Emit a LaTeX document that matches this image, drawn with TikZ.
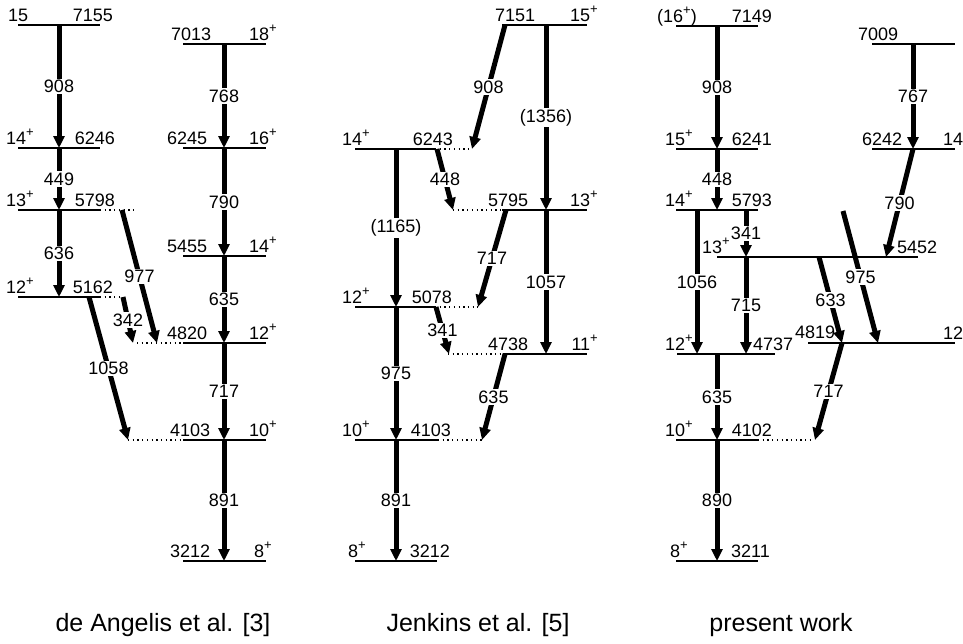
\documentclass[tikz,border=0pt]{standalone}
\usepackage{fontspec}
\setmainfont{Liberation Sans}
\usetikzlibrary{arrows.meta}
\newcommand\lf{\fontsize{18}{21}\selectfont}
\newcommand\pl{\raisebox{0.42em}{\fontsize{13}{13}\selectfont+}}
\begin{document}
\begin{tikzpicture}[x=1pt,y=-1pt,
 lev/.style={line width=1.3pt},
 dots/.style={line width=1.3pt, dash pattern=on 1.3pt off 3.4pt},
 gam/.style={line width=5pt, -{Triangle[width=11pt,length=12pt]}},
 en/.style={font=\lf, fill=white, inner sep=1.5pt},
 ll/.style={font=\lf, inner sep=0pt, anchor=base west},
 lr/.style={font=\lf, inner sep=0pt, anchor=base east},
 captxt/.style={font=\fontsize{25}{29}\selectfont, inner sep=0pt}]
\useasboundingbox (0,0) rectangle (963,643);

% ================= Panel 1: de Angelis =================
\draw[lev] (18,25) -- (100,25);
\node[ll] (a15) at (8,21) {15};
\node[lr] (a7155) at (113,21) {7155};
\draw[lev] (18,148) -- (100,148);
\node[ll] (a14) at (6,144) {14\pl};
\node[lr] (a6246) at (115,144) {6246};
\draw[lev] (18,210) -- (100,210);
\draw[dots] (100,210) -- (137,210);
\node[ll] (a13) at (6,206) {13\pl};
\node[lr] (a5798) at (115,206) {5798};
\draw[lev] (18,297) -- (100,297);
\draw[dots] (100,297) -- (123,297);
\node[ll] (a12) at (6,293) {12\pl};
\node[lr] (a5162) at (113,293) {5162};
\draw[lev] (183,44) -- (266,44);
\node[ll] (b7013) at (171,40) {7013};
\node[lr] (b18) at (277,40) {18\pl};
\draw[lev] (183,148) -- (266,148);
\node[ll] (b6245) at (167,144) {6245};
\node[lr] (b16) at (277,144) {16\pl};
\draw[lev] (183,256) -- (266,256);
\node[ll] (b5455) at (167,252) {5455};
\node[lr] (b14) at (277,252) {14\pl};
\draw[lev] (183,343) -- (266,343);
\draw[dots] (137,343) -- (183,343);
\node[ll] (b4820) at (167,339) {4820};
\node[lr] (b12) at (277,339) {12\pl};
\draw[lev] (183,440) -- (266,440);
\draw[dots] (128,440) -- (183,440);
\node[ll] (b4103) at (170,436) {4103};
\node[lr] (b10) at (277,436) {10\pl};
\draw[lev] (183,561) -- (266,561);
\node[ll] (b3212) at (170,557) {3212};
\node[lr] (b8) at (272,557) {8\pl};
\coordinate (p1a) at (59,25);  \coordinate (p1b) at (59,148);
\coordinate (p1c) at (59,210); \coordinate (p1d) at (59,297);
\coordinate (p1e) at (122,210); \coordinate (p1f) at (157,343);
\coordinate (p1g) at (123,297); \coordinate (p1h) at (133,343);
\coordinate (p1i) at (89,297);  \coordinate (p1j) at (128,440);
\coordinate (q1a) at (224,44);  \coordinate (q1b) at (224,148);
\coordinate (q1c) at (224,256); \coordinate (q1d) at (224,343);
\coordinate (q1e) at (224,440); \coordinate (q1f) at (224,561);
\draw[gam] (p1a) -- node[en]{908} (p1b);
\draw[gam] (p1b) -- node[en]{449} (p1c);
\draw[gam] (p1c) -- node[en]{636} (p1d);
\draw[gam] (p1e) -- node[en]{977} (p1f);
\draw[gam] (p1g) -- node[en]{342} (p1h);
\draw[gam] (p1i) -- node[en]{1058} (p1j);
\draw[gam] (q1a) -- node[en]{768} (q1b);
\draw[gam] (q1b) -- node[en]{790} (q1c);
\draw[gam] (q1c) -- node[en]{635} (q1d);
\draw[gam] (q1d) -- node[en]{717} (q1e);
\draw[gam] (q1e) -- node[en]{891} (q1f);

% ================= Panel 2: Jenkins =================
\draw[lev] (502,25) -- (587,25);
\node[ll] (c7151) at (495,21) {7151};
\node[lr] (c15) at (598,21) {15\pl};
\draw[lev] (355,149) -- (435,149);
\draw[dots] (435,149) -- (472,149);
\node[ll] (c14) at (342,145) {14\pl};
\node[lr] (c6243) at (453,145) {6243};
\draw[lev] (502,210) -- (587,210);
\draw[dots] (453,210) -- (502,210);
\node[ll] (c5795) at (488,206) {5795};
\node[lr] (c13) at (598,206) {13\pl};
\draw[lev] (355,307) -- (435,307);
\draw[dots] (435,307) -- (478,307);
\node[ll] (c12) at (342,303) {12\pl};
\node[lr] (c5078) at (452,303) {5078};
\draw[lev] (503,354) -- (587,354);
\draw[dots] (448,354) -- (503,354);
\node[ll] (c4738) at (488,350) {4738};
\node[lr] (c11) at (598,350) {11\pl};
\draw[lev] (355,440) -- (438,440);
\draw[dots] (438,440) -- (482,440);
\node[ll] (c10) at (342,436) {10\pl};
\node[lr] (c4103) at (451,436) {4103};
\draw[lev] (355,561) -- (437,561);
\node[ll] (c8) at (348,557) {8\pl};
\node[lr] (c3212) at (450,557) {3212};
\coordinate (p2a) at (505,25);  \coordinate (p2b) at (472,149);
\coordinate (p2c) at (546,25);  \coordinate (p2d) at (546,210);
\coordinate (p2e) at (437,149); \coordinate (p2f) at (453,210);
\coordinate (p2g) at (396,149); \coordinate (p2h) at (396,307);
\coordinate (p2i) at (506,210); \coordinate (p2j) at (478,307);
\coordinate (p2k) at (546,354);
\coordinate (p2l) at (436,307); \coordinate (p2m) at (449,354);
\coordinate (p2n) at (396,440);
\coordinate (p2o) at (505,354); \coordinate (p2p) at (482,440);
\coordinate (p2q) at (396,561);
\draw[gam] (p2a) -- node[en]{908} (p2b);
\draw[gam] (p2c) -- node[en]{(1356)} (p2d);
\draw[gam] (p2e) -- node[en]{448} (p2f);
\draw[gam] (p2g) -- node[en]{(1165)} (p2h);
\draw[gam] (p2i) -- node[en]{717} (p2j);
\draw[gam] (p2d) -- node[en]{1057} (p2k);
\draw[gam] (p2l) -- node[en]{341} (p2m);
\draw[gam] (p2h) -- node[en]{975} (p2n);
\draw[gam] (p2o) -- node[en]{635} (p2p);
\draw[gam] (p2n) -- node[en]{891} (p2q);

% ================= Panel 3: present work =================
\draw[lev] (676,26) -- (758,26);
\node[ll] (d16) at (657,22) {(16\pl)};
\node[lr] (d7149) at (772,22) {7149};
\draw[lev] (872,44) -- (955,44);
\node[ll] (e7009) at (858,40) {7009};
\draw[lev] (676,149) -- (758,149);
\node[ll] (d15) at (665,145) {15\pl};
\node[lr] (d6241) at (772,145) {6241};
\draw[lev] (872,149) -- (955,149);
\node[ll] (e6242) at (862,145) {6242};
\node[ll] (e14) at (943,145) {14\pl};
\draw[lev] (717,257) -- (918,257);
\draw[lev] (676,210) -- (758,210);
\node[ll] (d14) at (665,206) {14\pl};
\node[lr] (d5793) at (772,206) {5793};
\node[ll] (f5452) at (897,253) {5452};
\draw[lev] (677,354) -- (775,354);
\node[ll] (d12) at (665,350) {12\pl};
\node[ll] (d4737) at (753,350) {4737};
\draw[lev] (808,343) -- (955,343);
\node[ll] (g4819) at (795,338) {4819};
\node[ll] (g12) at (943,339) {12\pl};
\draw[lev] (676,440) -- (758,440);
\draw[dots] (758,440) -- (813,440);
\node[ll] (d10) at (665,436) {10\pl};
\node[lr] (d4102) at (772,436) {4102};
\draw[lev] (676,561) -- (758,561);
\node[ll] (d8) at (670,557) {8\pl};
\node[lr] (d3211) at (770,557) {3211};
\coordinate (p3a) at (717,26);  \coordinate (p3b) at (717,149);
\coordinate (p3c) at (717,210);
\coordinate (p3d) at (913,44);  \coordinate (p3e) at (913,149);
\coordinate (p3f) at (886,257);
\coordinate (p3g) at (746,210); \coordinate (p3h) at (746,257);
\coordinate (p3i) at (697,210); \coordinate (p3j) at (697,354);
\coordinate (p3k) at (746,354);
\coordinate (p3l) at (819,257); \coordinate (p3m) at (842,343);
\coordinate (p3n) at (843,211); \coordinate (p3o) at (878,343);
\coordinate (p3p) at (815,440);
\coordinate (p3q) at (717,354); \coordinate (p3r) at (717,440);
\coordinate (p3s) at (717,561);
\draw[gam] (p3a) -- node[en]{908} (p3b);
\draw[gam] (p3b) -- node[en]{448} (p3c);
\draw[gam] (p3d) -- node[en]{767} (p3e);
\draw[gam] (p3e) -- node[en]{790} (p3f);
\draw[gam] (p3g) -- node[en]{341} (p3h);
\draw[gam] (p3i) -- node[en]{1056} (p3j);
\draw[gam] (p3h) -- node[en]{715} (p3k);
\draw[gam] (p3l) -- node[en]{633} (p3m);
\draw[gam] (p3n) -- node[en]{975} (p3o);
\draw[gam] (p3m) -- node[en]{717} (p3p);
\draw[gam] (p3q) -- node[en]{635} (p3r);
\draw[gam] (p3r) -- node[en]{890} (p3s);
\node[ll] (f13) at (702,253) {13\pl};

\node[captxt] (cap1) at (163,625) {de Angelis et al. [3]};
\node[captxt] (cap2) at (478,625) {Jenkins et al. [5]};
\node[captxt] (cap3) at (781,625) {present work};
\end{tikzpicture}
\end{document}
